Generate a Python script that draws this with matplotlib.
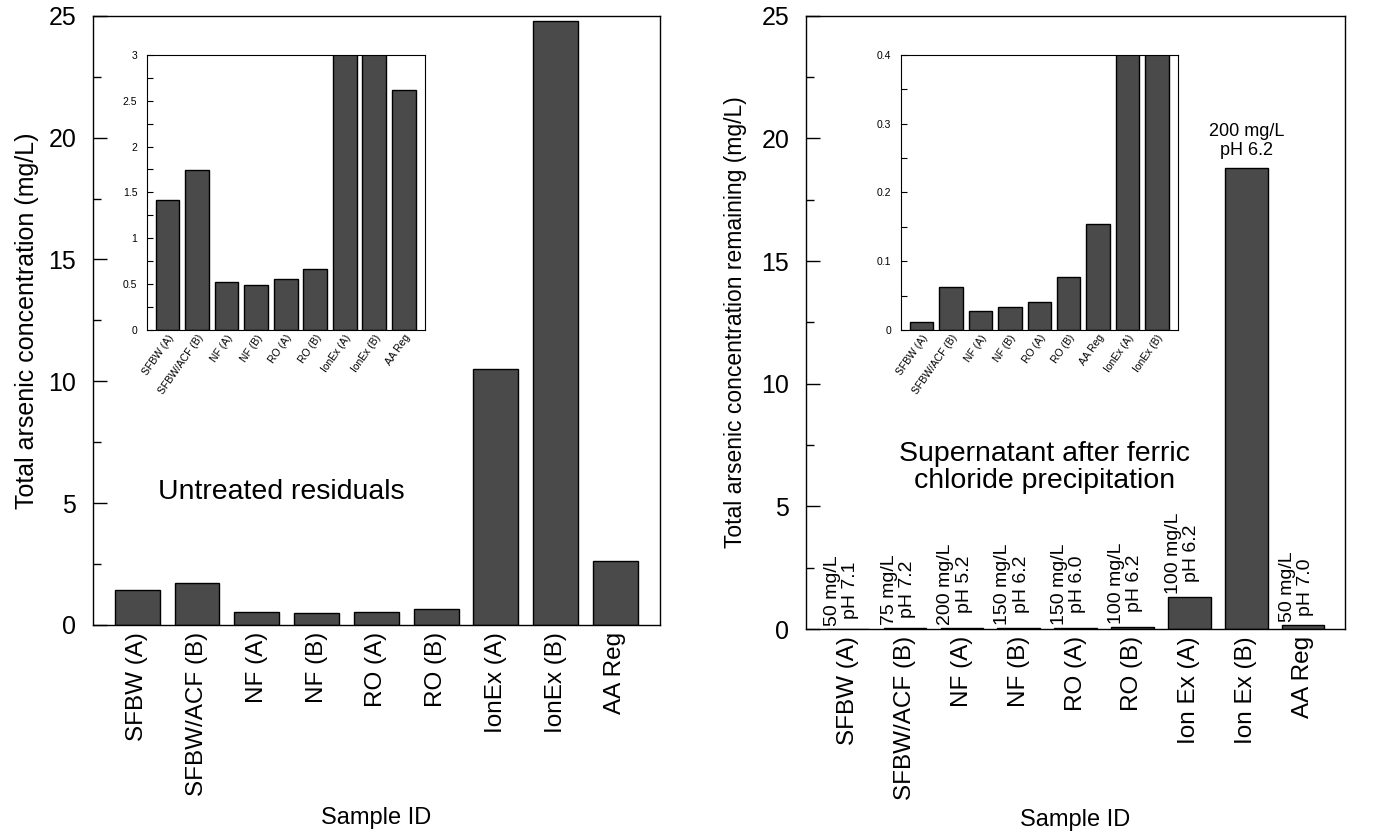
import matplotlib
matplotlib.use("Agg")
import matplotlib.pyplot as plt
from matplotlib.ticker import MultipleLocator

plt.rcParams["font.family"] = ["Liberation Sans", "DejaVu Sans"]

# ---------------- Data ----------------
raw_labels = ["SFBW (A)", "SFBW/ACF (B)", "NF (A)", "NF (B)", "RO (A)", "RO (B)",
              "IonEx (A)", "IonEx (B)", "AA Reg"]
raw_conc = [1.42, 1.74, 0.52, 0.49, 0.55, 0.66, 10.5, 24.8, 2.62]

sup_labels = ["SFBW (A)", "SFBW/ACF (B)", "NF (A)", "NF (B)", "RO (A)", "RO (B)",
              "Ion Ex (A)", "Ion Ex (B)", "AA Reg"]
sup_conc = [0.012, 0.062, 0.027, 0.034, 0.040, 0.077, 1.3, 18.8, 0.154]
fecl3_dose = ["50 mg/L", "75 mg/L", "200 mg/L", "150 mg/L", "150 mg/L", "100 mg/L",
              "100 mg/L", "200 mg/L", "50 mg/L"]
fecl3_ph = ["pH 7.1", "pH 7.2", "pH 5.2", "pH 6.2", "pH 6.0", "pH 6.2",
            "pH 6.2", "pH 6.2", "pH 7.0"]

# inset on the supernatant panel puts AA Reg ahead of the ion exchange samples
sup_inset_order = [0, 1, 2, 3, 4, 5, 8, 6, 7]
sup_inset_labels = ["SFBW (A)", "SFBW/ACF (B)", "NF (A)", "NF (B)", "RO (A)", "RO (B)",
                    "AA Reg", "IonEx (A)", "IonEx (B)"]

BAR = "#4a4a4a"


def style_main(ax):
    ax.set_ylim(0, 25)
    ax.set_xlim(-0.74, 8.74)
    ax.yaxis.set_major_locator(MultipleLocator(5))
    ax.yaxis.set_minor_locator(MultipleLocator(2.5))
    ax.tick_params(axis="y", which="major", direction="in", length=10, width=1, labelsize=18, pad=12)
    ax.tick_params(axis="y", which="minor", direction="in", length=6, width=1)
    ax.tick_params(axis="x", length=0, labelsize=17.5, pad=5)
    for s in ax.spines.values():
        s.set_linewidth(1)


def style_inset(ax, top, major, minor, labels):
    ax.set_ylim(0, top)
    ax.set_xlim(-0.7, 8.72)
    ax.yaxis.set_major_locator(MultipleLocator(major))
    ax.yaxis.set_minor_locator(MultipleLocator(minor))
    ax.tick_params(axis="y", which="major", direction="in", length=4, width=0.8, labelsize=7.5, pad=7)
    ax.tick_params(axis="y", which="minor", direction="in", length=4, width=0.8)
    ax.tick_params(axis="x", length=0, pad=2)
    ax.set_xticks(range(len(labels)))
    ax.set_xticklabels(labels, rotation=55, ha="right", rotation_mode="anchor", fontsize=7.5)
    ax.yaxis.set_major_formatter(plt.FuncFormatter(lambda v, p: f"{v:g}"))


fig = plt.figure(figsize=(13.79, 8.31), dpi=100)

# ---------------- Untreated residuals ----------------
ax1 = fig.add_axes([0.0674, 0.248, 0.411, 0.733])
x = range(len(raw_conc))
ax1.bar(x, raw_conc, width=0.75, color=BAR, edgecolor="black", linewidth=1)
style_main(ax1)
ax1.set_xticks(list(x))
ax1.set_xticklabels(raw_labels, rotation=90)
ax1.set_ylabel("Total arsenic concentration (mg/L)", fontsize=18)
ax1.yaxis.set_label_coords(-0.095, 0.5)
ax1.set_xlabel("Sample ID", fontsize=17)
ax1.xaxis.set_label_coords(0.5, -0.299)
ax1.text(0.333, 0.218, "Untreated residuals", transform=ax1.transAxes,
         ha="center", va="center", fontsize=20.5)

in1 = fig.add_axes([0.1066, 0.603, 0.2016, 0.331])
in1.bar(x, raw_conc, width=0.8, color=BAR, edgecolor="black", linewidth=1)
style_inset(in1, 3, 0.5, 0.25, raw_labels)

# ---------------- Supernatant after FeCl3 ----------------
ax2 = fig.add_axes([0.5845, 0.243, 0.391, 0.738])
ax2.bar(x, sup_conc, width=0.75, color=BAR, edgecolor="black", linewidth=1)
style_main(ax2)
ax2.set_xticks(list(x))
ax2.set_xticklabels(sup_labels, rotation=90)
ax2.set_ylabel("Total arsenic concentration remaining (mg/L)", fontsize=16.5)
ax2.yaxis.set_label_coords(-0.11, 0.5)
ax2.set_xlabel("Sample ID", fontsize=17)
ax2.xaxis.set_label_coords(0.5, -0.294)
ax2.text(0.443, 0.263, "Supernatant after ferric\nchloride precipitation",
         transform=ax2.transAxes, ha="center", va="center", fontsize=20.5, linespacing=1.05)

for i, (v, d, p) in enumerate(zip(sup_conc, fecl3_dose, fecl3_ph)):
    if v > 10:
        ax2.text(i, v + 0.35, f"{d}\n{p}", ha="center", va="bottom", fontsize=13)
    else:
        ax2.text(i - 0.12, v + 0.12, f"{d}\n{p}", ha="center", va="bottom",
                 rotation=90, fontsize=14, linespacing=1.1)

in2 = fig.add_axes([0.6534, 0.603, 0.2009, 0.331])
in2.bar(x, [sup_conc[k] for k in sup_inset_order], width=0.8, color=BAR,
        edgecolor="black", linewidth=1)
style_inset(in2, 0.4, 0.1, 0.05, sup_inset_labels)

fig.savefig("out.png", dpi=100)
